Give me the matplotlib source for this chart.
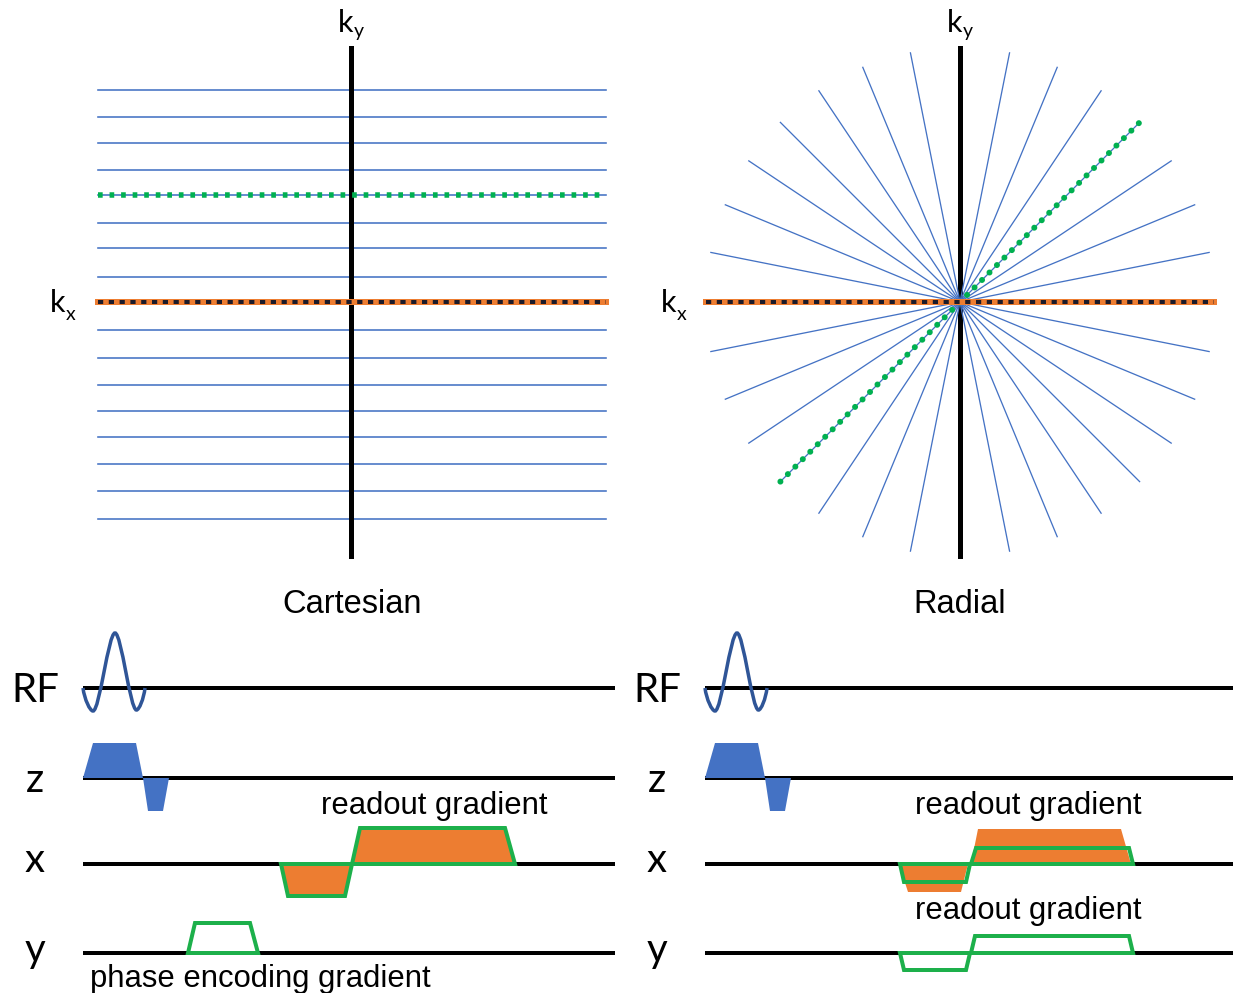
import numpy as np
import matplotlib.pyplot as plt
from matplotlib.path import Path
from matplotlib.patches import PathPatch, Polygon

# ---- k-space data (ky in units of k_max) ----
cart_ky = [0.835, 0.728, 0.626, 0.520, 0.421, 0.312, 0.213, 0.098, 0.0,
           -0.110, -0.220, -0.327, -0.429, -0.531, -0.638, -0.744, -0.854]
cart_green_ky = 0.421
cart_orange_ky = 0.0
radial_angles = [0, 11.25, 22.5, 33.75, 45, 56.25, 67.5, 78.75,
                 101.25, 112.5, 123.75, 135, 146.25, 157.5, 168.75]
radial_green = 45
radial_orange = 0
panel_titles = ['Cartesian', 'Radial']

# ---- pulse sequence data: time (a.u.) and amplitude (a.u.) ----
rf_t = [0, 10, 32, 53.5, 62]
rf_a = [0, -23, 55, -22, 0]
# trapezoids: (start, ramp up, flat top, ramp down, amplitude)
z_grads = [(0, 10, 43, 7, 35), (60, 5, 15, 6, -33)]
cart_x = [(198, 7, 57, 7, -32), (269, 8, 145, 10, 36)]
cart_y = [(105, 7, 55, 8, 30)]
rad_x_fill = [(194, 9, 53, 7, -28), (266, 7, 143, 10, 35)]
rad_x_line = [(195, 4, 62, 4, -18), (266, 5, 153, 4, 16)]
rad_y_line = [(195, 4, 62, 4, -17), (266, 4, 154, 4, 17)]
row_labels = ['RF', 'z', 'x', 'y']

# ---- layout (pixels) ----
W, H = 1233, 993
CART_C = (352, 302)
RAD_C = (960, 302)
R = 254
SEQ_X0 = [83, 705]
SEQ_X1 = [615, 1233]
ROW_Y = [688, 778, 864, 953]
LABEL_X = [35, 657]
LABEL_BASE = [702, 792, 872, 962]

BLUE = '#4472C4'
DBLUE = '#2F5597'
GREEN = '#1DB04B'
DOTGREEN = '#00B050'
ORANGE = '#ED7D31'
DARK = '#1b1b2a'

fig = plt.figure(figsize=(W / 100, H / 100), dpi=100)
ax = fig.add_axes([0, 0, 1, 1])
ax.set_xlim(0, W)
ax.set_ylim(H, 0)
ax.axis('off')

px = 0.72  # pixel -> point

# ---- Cartesian k-space ----
cx, cy = CART_C
for ky in cart_ky:
    ax.plot([cx - R, cx + R], [cy - ky * R] * 2, color=BLUE, lw=1.6 * px, zorder=1)
ax.plot([cx - 1, cx - 1], [cy - R, cy + R], color='black', lw=5 * px, zorder=2)
ax.plot([cx - R, cx + R], [cy - cart_green_ky * R] * 2, color=DOTGREEN, lw=5.5 * px,
        dashes=(0.85, 1.25), zorder=3)
ax.plot([cx - R, cx + R], [cy - cart_orange_ky * R] * 2, color=ORANGE, lw=6 * px, zorder=3)
ax.plot([cx - R, cx + R], [cy - cart_orange_ky * R] * 2, color=DARK, lw=4 * px,
        dashes=(1.3, 1.4), zorder=4)

# ---- Radial k-space ----
rx, ry = RAD_C
ax.plot([rx, rx], [ry - R, ry + R], color='black', lw=5 * px, zorder=1)
for ang in radial_angles:
    a = np.deg2rad(ang)
    ax.plot([rx - R * np.cos(a), rx + R * np.cos(a)],
            [ry + R * np.sin(a), ry - R * np.sin(a)], color=BLUE, lw=1.3 * px, zorder=2)
a = np.deg2rad(radial_green)
ax.plot([rx - R * np.cos(a), rx + R * np.cos(a)],
        [ry + R * np.sin(a), ry - R * np.sin(a)], color=DOTGREEN, lw=6 * px,
        dashes=(0.01, 1.75), dash_capstyle='round', zorder=3)
ax.plot([rx - R, rx + R], [ry, ry], color=ORANGE, lw=6 * px, zorder=3)
ax.plot([rx - R, rx + R], [ry, ry], color=DARK, lw=4 * px, dashes=(1.3, 1.4), zorder=4)

# ---- k labels ----
for kx0 in [338, 947]:
    ax.text(kx0, 31.5, 'k', fontsize=22, family='Lato', ha='left', va='baseline')
    ax.text(kx0 + 15.5, 36.5, 'y', fontsize=14, family='Lato', ha='left', va='baseline')
for kx0, y0 in [(50, 311.5), (661, 311.5)]:
    ax.text(kx0, y0, 'k', fontsize=22, family='Lato', ha='left', va='baseline')
    ax.text(kx0 + 15.5, y0 + 9, 'x', fontsize=14, family='Lato', ha='left', va='baseline')

for title, xc in zip(panel_titles, [cx, rx]):
    ax.text(xc, 613, title, fontsize=23.5, family='Liberation Sans', ha='center', va='baseline')


# ---- pulse sequence helpers ----
def trap(x0, base, g):
    t0, ru, fl, rd, amp = g
    ts = [t0, t0 + ru, t0 + ru + fl, t0 + ru + fl + rd]
    return [(x0 + t, base - a) for t, a in zip(ts, [0, amp, amp, 0])]


def rf_path(x0, base):
    verts = [(x0 + rf_t[0], base - rf_a[0])]
    codes = [Path.MOVETO]
    n = len(rf_t)
    for i in range(n - 1):
        ta, aa, tb, ab = rf_t[i], rf_a[i], rf_t[i + 1], rf_a[i + 1]
        dt, da = tb - ta, ab - aa
        ext_a = 0 < i < n - 1
        ext_b = 0 < i + 1 < n - 1
        c1 = (ta + 0.3 * dt, aa) if ext_a else (ta + 0.15 * dt, aa + 0.5 * da)
        c2 = (tb - 0.3 * dt, ab) if ext_b else (tb - 0.15 * dt, ab - 0.5 * da)
        for t, a in [c1, c2, (tb, ab)]:
            verts.append((x0 + t, base - a))
        codes += [Path.CURVE4] * 3
    return Path(verts, codes)


for p in range(2):
    x0 = SEQ_X0[p]
    for lab, yb, lb in zip(row_labels, ROW_Y, LABEL_BASE):
        ax.plot([x0, SEQ_X1[p]], [yb, yb], color='black', lw=4 * px, zorder=1,
                solid_capstyle='butt')
        ax.text(LABEL_X[p], lb, lab, fontsize=29, family='Lato', ha='center', va='baseline')
    ax.add_patch(PathPatch(rf_path(x0, ROW_Y[0]), fill=False, edgecolor=DBLUE,
                           lw=3.5 * px, zorder=3))
    for g in z_grads:
        ax.add_patch(Polygon(trap(x0, ROW_Y[1], g), closed=True, facecolor=BLUE,
                             edgecolor='none', zorder=2))

x0 = SEQ_X0[0]
for g in cart_x:
    ax.add_patch(Polygon(trap(x0, ROW_Y[2], g), closed=True, facecolor=ORANGE,
                         edgecolor=GREEN, lw=4 * px, zorder=2, joinstyle='miter'))
for g in cart_y:
    ax.add_patch(Polygon(trap(x0, ROW_Y[3], g), closed=True, facecolor='none',
                         edgecolor=GREEN, lw=4 * px, zorder=2, joinstyle='miter'))
ax.text(434.5, 814, 'readout gradient', fontsize=22.3, family='Liberation Sans',
        ha='center', va='baseline')
ax.text(90, 987, 'phase encoding gradient', fontsize=22.3, family='Liberation Sans',
        ha='left', va='baseline')

x0 = SEQ_X0[1]
for g in rad_x_fill:
    ax.add_patch(Polygon(trap(x0, ROW_Y[2], g), closed=True, facecolor=ORANGE,
                         edgecolor='none', zorder=2))
for g in rad_x_line:
    ax.add_patch(Polygon(trap(x0, ROW_Y[2], g), closed=True, facecolor='none',
                         edgecolor=GREEN, lw=4 * px, zorder=3, joinstyle='miter'))
for g in rad_y_line:
    ax.add_patch(Polygon(trap(x0, ROW_Y[3], g), closed=True, facecolor='none',
                         edgecolor=GREEN, lw=4 * px, zorder=3, joinstyle='miter'))
ax.text(1028, 814, 'readout gradient', fontsize=22.3, family='Liberation Sans',
        ha='center', va='baseline')
ax.text(1028, 919, 'readout gradient', fontsize=22.3, family='Liberation Sans',
        ha='center', va='baseline')

fig.savefig('out.png', dpi=100)
